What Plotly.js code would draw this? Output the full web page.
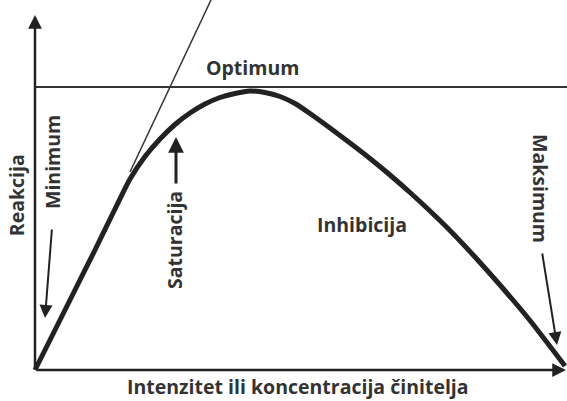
<!DOCTYPE html>
<html>
<head>
<meta charset="utf-8">
<script src="https://cdn.plot.ly/plotly-3.0.1.min.js"></script>
<style>
    body { margin: 0; }
    #plot { width: 567px; height: 401px; }
</style>
</head>
<body>
<div id="plot"></div>
<script>
// response curve (origin bottom-left, 1 unit ~ 1px)
const curveX = [0, 20, 40, 60, 80, 95, 110, 125, 140, 155, 170, 185, 200, 215, 230, 245, 260, 275, 295, 315, 335, 355, 375, 395, 415, 440, 465, 495, 530];
const curveY = [0, 40, 80, 120, 161, 191, 213.5, 231, 245.5, 257, 266, 272.5, 276.5, 279, 277.5, 273.5, 266.5, 256.5, 242, 227, 211.5, 195, 177.5, 159, 139.5, 113, 85, 49.5, 4];

const optimumX = [0, 532];
const optimumY = [283, 283];

const tangentX = [95, 176];
const tangentY = [198, 370];

const xTitle = 'Intenzitet ili koncentracija činitelja';
const yTitle = 'Reakcija';

const labels = [
    { text: 'Optimum', x: 217, y: 303, angle: 0 },
    { text: 'Minimum', x: 17, y: 208, angle: -90 },
    { text: 'Saturacija', x: 139, y: 130, angle: -90 },
    { text: 'Inhibicija', x: 327, y: 146, angle: 0 },
    { text: 'Maksimum', x: 506, y: 182, angle: 90 },
];

// arrows: tail (ax, ay) -> head (x, y)
const arrows = [
    { x: 0, y: 355, ax: 0, ay: 0, width: 2.5, size: 1.1 },
    { x: 531, y: 0, ax: 0, ay: 0, width: 2.5, size: 1.1 },
    { x: 10, y: 52, ax: 17, ay: 142, width: 2, size: 1.3 },
    { x: 141, y: 233, ax: 141, ay: 185, width: 3, size: 1.05 },
    { x: 522, y: 25, ax: 507, ay: 118, width: 2, size: 1.3 },
];

const ink = '#222';
const font = { family: 'Open Sans, sans-serif', size: 19.5, color: '#333', weight: 'bold' };

const data = [
    {
        x: optimumX,
        y: optimumY,
        mode: 'lines',
        line: { color: '#333', width: 1.8 },
        hoverinfo: 'skip',
    },
    {
        x: tangentX,
        y: tangentY,
        mode: 'lines',
        line: { color: '#333', width: 1.5 },
        hoverinfo: 'skip',
    },
    {
        x: curveX,
        y: curveY,
        mode: 'lines',
        line: { color: ink, width: 5, shape: 'spline', smoothing: 0.6 },
    },
];

const annotations = labels.map(l => ({
    text: '<b>' + l.text + '</b>',
    x: l.x,
    y: l.y,
    xref: 'x',
    yref: 'y',
    xanchor: 'center',
    yanchor: 'middle',
    textangle: l.angle,
    showarrow: false,
    font,
}));

arrows.forEach(a => annotations.push({
    text: '',
    x: a.x,
    y: a.y,
    ax: a.ax,
    ay: a.ay,
    xref: 'x',
    yref: 'y',
    axref: 'x',
    ayref: 'y',
    showarrow: true,
    arrowhead: 2,
    arrowwidth: a.width,
    arrowsize: a.size,
    arrowcolor: ink,
}));

// axis titles sit outside the axis ranges, so place them on the paper
annotations.push({
    text: '<b>' + xTitle + '</b>',
    x: 0.508, y: -0.0157, xref: 'paper', yref: 'paper',
    xanchor: 'center', yanchor: 'middle', borderpad: 0, showarrow: false, font,
});
annotations.push({
    text: '<b>' + yTitle + '</b>',
    x: -0.007, y: 0.488, xref: 'paper', yref: 'paper',
    xanchor: 'center', yanchor: 'middle', textangle: -90, showarrow: false, font,
});

Plotly.newPlot('plot', data, {
    width: 567,
    height: 401,
    margin: { l: 20, r: 0, t: 0, b: 20 },
    showlegend: false,
    paper_bgcolor: 'white',
    plot_bgcolor: 'white',
    xaxis: { range: [-15, 532], visible: false, fixedrange: true },
    yaxis: { range: [-11, 370], visible: false, fixedrange: true },
    annotations,
}, { displayModeBar: false, staticPlot: true });
</script>
</body>
</html>
